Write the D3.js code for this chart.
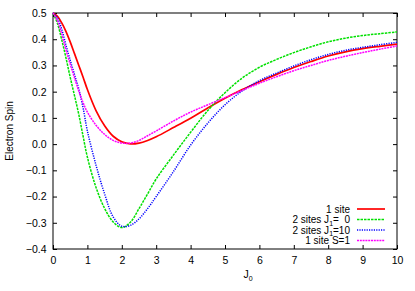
<!DOCTYPE html>
<html>
<head>
<meta charset="utf-8">
<script src="https://cdn.jsdelivr.net/npm/d3@7"></script>
<style>
  body { margin: 0; background: #fff; }
  text { font-family: "Liberation Sans", Arial, sans-serif; font-size: 10.5px; fill: #000; }
</style>
</head>
<body>
<svg id="chart" width="415" height="291"></svg>
<script>
// values
var j0 = [0, 0.125, 0.25, 0.375, 0.5, 0.625, 0.75, 0.875, 1, 1.25, 1.5, 1.75, 2, 2.25, 2.5, 2.75, 3, 3.5, 4, 4.5, 5, 5.5, 6, 6.5, 7, 7.5, 8, 8.5, 9, 9.5, 10];
var oneSite    = [0.5, 0.488, 0.463, 0.43, 0.39, 0.345, 0.3, 0.255, 0.208, 0.128, 0.07, 0.03, 0.009, 0.001, 0.004, 0.014, 0.028, 0.063, 0.099, 0.138, 0.175, 0.208, 0.238, 0.266, 0.292, 0.315, 0.336, 0.352, 0.364, 0.373, 0.381];
var twoSites0  = [0.5, 0.462, 0.4, 0.33, 0.255, 0.185, 0.113, 0.03, -0.05, -0.165, -0.245, -0.297, -0.318, -0.298, -0.246, -0.19, -0.133, -0.042, 0.045, 0.128, 0.196, 0.252, 0.293, 0.323, 0.349, 0.371, 0.39, 0.404, 0.414, 0.421, 0.428];
var twoSites10 = [0.5, 0.482, 0.44, 0.378, 0.32, 0.265, 0.21, 0.138, 0.05, -0.08, -0.19, -0.278, -0.313, -0.31, -0.285, -0.246, -0.2, -0.105, -0.004, 0.08, 0.15, 0.203, 0.242, 0.271, 0.298, 0.322, 0.342, 0.358, 0.369, 0.379, 0.388];
var oneSiteS1  = [0.5, 0.472, 0.422, 0.36, 0.305, 0.253, 0.202, 0.158, 0.122, 0.072, 0.037, 0.014, 0.004, 0.004, 0.014, 0.032, 0.05, 0.088, 0.122, 0.15, 0.177, 0.205, 0.232, 0.257, 0.28, 0.3, 0.319, 0.335, 0.349, 0.362, 0.374];
var xTicks = [0, 1, 2, 3, 4, 5, 6, 7, 8, 9, 10];
var yTicks = [-0.4, -0.3, -0.2, -0.1, 0.0, 0.1, 0.2, 0.3, 0.4, 0.5];

var series = [
  { label: ["1 site"], values: oneSite, color: "#ff0000", dash: null, width: 1.7 },
  { label: ["2 sites J", "1", "=\u00a0 0"], values: twoSites0, color: "#00e000", dash: "2.5,1", width: 1.5 },
  { label: ["2 sites J", "1", "=10"], values: twoSites10, color: "#0000ff", dash: "1.2,1.2", width: 1.5 },
  { label: ["1 site S=1"], values: oneSiteS1, color: "#ff00ff", dash: "2,0.8", width: 1.5 }
];

var svg = d3.select("#chart");
var margin = { top: 13, right: 18, bottom: 42, left: 53 },
  width = +svg.attr("width") - margin.left - margin.right,
  height = +svg.attr("height") - margin.top - margin.bottom;

var g = svg.append("g")
  .attr("transform", "translate(" + margin.left + "," + margin.top + ")");

var x = d3.scaleLinear().domain([0, 10]).range([0, width]);
var y = d3.scaleLinear().domain([-0.4, 0.5]).range([height, 0]);

// gnuplot style: ticks pointing inward on all four sides
g.append("g")
  .attr("transform", "translate(0," + height + ")")
  .call(d3.axisBottom(x).tickValues(xTicks).tickSizeInner(-4).tickSizeOuter(0).tickPadding(7.5).tickFormat(d3.format("d")));
g.append("g")
  .call(d3.axisTop(x).tickValues(xTicks).tickSizeInner(-4).tickSizeOuter(0).tickFormat(""));
g.append("g")
  .call(d3.axisLeft(y).tickValues(yTicks).tickSizeInner(-4).tickSizeOuter(0).tickPadding(6.5).tickFormat(d3.format(".1f")));
g.append("g")
  .attr("transform", "translate(" + width + ",0)")
  .call(d3.axisRight(y).tickValues(yTicks).tickSizeInner(-4).tickSizeOuter(0).tickFormat(""));

g.selectAll(".domain").remove();
g.selectAll(".tick text").style("font-size", "10.5px").style("font-family", "Liberation Sans, Arial, sans-serif");

g.append("rect")
  .attr("width", width)
  .attr("height", height)
  .attr("fill", "none")
  .attr("stroke", "#000")
  .attr("stroke-width", 1);

var line = d3.line()
  .x(function (d) { return x(d[0]); })
  .y(function (d) { return y(d[1]); })
  .curve(d3.curveCatmullRom.alpha(0.5));

g.selectAll(".trend")
  .data(series)
  .enter()
  .append("path")
  .attr("class", "trend")
  .attr("fill", "none")
  .attr("stroke", function (d) { return d.color; })
  .attr("stroke-width", function (d) { return d.width; })
  .attr("stroke-dasharray", function (d) { return d.dash; })
  .attr("d", function (d) { return line(d.values.map(function (v, i) { return [j0[i], v]; })); });

// legend
var legend = g.selectAll(".legend")
  .data(series)
  .enter()
  .append("g")
  .attr("class", "legend")
  .attr("transform", function (d, i) { return "translate(0," + (196 + i * 10.5) + ")"; });

legend.append("line")
  .attr("x1", 304).attr("x2", 332)
  .attr("stroke", function (d) { return d.color; })
  .attr("stroke-width", function (d) { return d.width; })
  .attr("stroke-dasharray", function (d) { return d.dash; });

legend.append("text")
  .attr("x", 297)
  .attr("y", 3.5)
  .attr("text-anchor", "end")
  .style("font-size", "10px")
  .each(function (d) {
    var t = d3.select(this);
    t.append("tspan").text(d.label[0]);
    if (d.label.length > 1) {
      t.append("tspan").attr("dy", 2.5).style("font-size", "7px").text(d.label[1]);
      t.append("tspan").attr("dy", -2.5).text(d.label[2]);
    }
  });

// axis labels
var xl = svg.append("text")
  .attr("x", 248)
  .attr("y", 278)
  .attr("text-anchor", "middle");
xl.append("tspan").text("J");
xl.append("tspan").attr("dy", 3).style("font-size", "7px").text("0");

svg.append("text")
  .attr("transform", "translate(13," + (margin.top + height / 2) + ") rotate(-90)")
  .attr("text-anchor", "middle")
  .style("font-size", "10px")
  .text("Electron Spin");
</script>
</body>
</html>
